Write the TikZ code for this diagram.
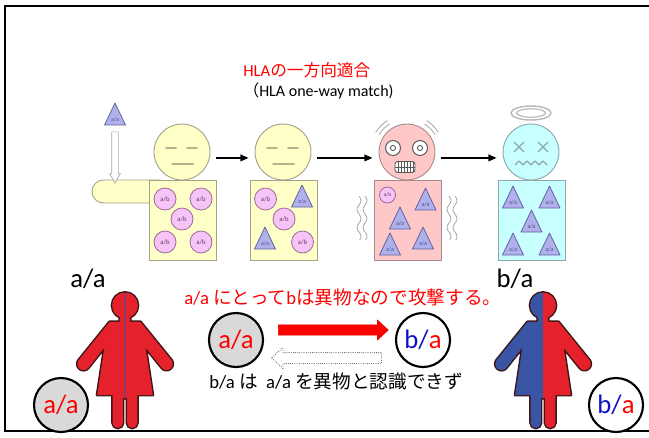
\documentclass[tikz,border=0pt]{standalone}
\usepackage{fontspec}
\setmainfont{Carlito}
\newfontfamily\jp{Noto Sans CJK JP}
\usetikzlibrary{shapes.arrows,shapes.geometric,calc,arrows.meta}

\definecolor{yfill}{HTML}{FFFFC8}
\definecolor{yline}{HTML}{A3A38A}
\definecolor{faceline}{HTML}{B4B48C}
\definecolor{pfill}{HTML}{FFC8C8}
\definecolor{pline}{HTML}{A88C8C}
\definecolor{cfill}{HTML}{C8FFFF}
\definecolor{cline}{HTML}{8CA8A8}
\definecolor{abfill}{HTML}{F7C4F7}
\definecolor{abline}{HTML}{9A6A9A}
\definecolor{abtext}{HTML}{6A3A6A}
\definecolor{trifill}{HTML}{B0B0EC}
\definecolor{triline}{HTML}{6464A0}
\definecolor{tritext}{HTML}{505088}
\definecolor{manred}{HTML}{E5212B}
\definecolor{manblue}{HTML}{3A54A4}
\definecolor{manline}{HTML}{3C1616}
\definecolor{seam}{HTML}{8A3C6E}
\definecolor{circgray}{HTML}{D9D9D9}
\definecolor{inkblue}{HTML}{1010CC}
\definecolor{inkred}{HTML}{FF0000}

% silhouette of a person in local pixel units, head top at y=0
\newcommand{\dresspath}{(5,24) -- (5,29) -- (15,29) -- (45,66)
  arc[start angle=-39, end angle=141, radius=6]
  -- (20,54) -- (27,100) -- (12,100) -- (12,127)
  arc[start angle=0, end angle=180, radius=5]
  -- (2,103) -- (-2,103) -- (-2,127)
  arc[start angle=0, end angle=180, radius=5]
  -- (-12,100) -- (-27,100) -- (-20,54) -- (-35.6,73.6)
  arc[start angle=39, end angle=219, radius=6]
  -- (-15,29) -- (-5,29) -- (-5,24) -- cycle}
\newcommand{\headpath}{(0,13) circle[radius=12.5]}

\tikzset{
  antigen/.pic={
    \draw[fill=trifill, draw=triline, line width=0.6pt, line join=round]
      (0,-12) -- (10.5,10) -- (-10.5,10) -- cycle;
    \node[font=\fontsize{4.5}{4.5}\selectfont, text=tritext, inner sep=0pt] (-lbl) at (0,5) {a/a};
  }
}

\begin{document}
\begin{tikzpicture}[x=0.75pt, y=-0.75pt,
  every node/.style={inner sep=0pt},
  head/.style={circle, minimum size=42pt, line width=0.7pt},
  bodybox/.style={rectangle, minimum width=50.25pt, minimum height=60pt, line width=0.7pt},
  yel/.style={fill=yfill, draw=yline},
  pnk/.style={fill=pfill, draw=pline},
  cyn/.style={fill=cfill, draw=cline},
  ab/.style={circle, minimum size=16.5pt, fill=abfill, draw=abline, line width=0.6pt,
    text=abtext, font=\fontsize{5}{5}\selectfont},
  flow/.style={-{Triangle[length=6pt,width=5pt]}, line width=0.9pt,
    shorten <=4.5pt, shorten >=5pt},
  calm/.style={draw=faceline, line width=1.5pt, line cap=round},
  shake/.style={draw=gray!70, line width=0.6pt},
  drop/.style={single arrow, draw=gray!70, fill=white, line width=0.5pt,
    minimum height=38.25pt, minimum width=0pt, single arrow head extend=1.5pt,
    single arrow tip angle=60, inner xsep=0pt, inner ysep=2.25pt,
    text height=0pt, text depth=0pt, rotate=-90},
  bigarrow/.style={single arrow, minimum height=82.5pt, minimum width=0pt,
    single arrow head extend=3.75pt, single arrow tip angle=85,
    inner xsep=0pt, inner ysep=3.75pt, text height=0pt, text depth=0pt},
  allele/.style={circle, minimum size=40.5pt, draw=black, line width=1.6pt,
    font=\fontsize{20}{20}\selectfont},
  geno/.style={font=\fontsize{20}{20}\selectfont},
  outline/.style={draw=manline, line width=2.2pt, line join=round},
]
\useasboundingbox (0,0) rectangle (649,437);

% frame
\draw[line width=1.5pt] (649,6) -- (5,6) -- (5,431) -- (649,431);

% headings
\node[anchor=west, text=inkred, font=\fontsize{12.5}{14}\selectfont] (title) at (243,70)
  {HLA{\jp の一方向適合}};
\node[anchor=west, font=\fontsize{12}{14}\selectfont] (subtitle) at (243,91)
  {{\jp （}HLA one-way match)};

% ---- transfusion sequence ----
% arm receiving the cells
\draw[yel, line width=0.7pt, rounded corners=8.6pt] (92,180) rectangle (170,203);

% bodies
\node[bodybox, yel] (b1) at (182.5,220) {};
\node[bodybox, yel] (b2) at (284,220) {};
\node[bodybox, pnk] (b3) at (407.5,220) {};
\node[bodybox, cyn] (b4) at (531.5,220) {};

% heads
\node[head, yel] (h1) at (182,152) {};
\node[head, yel] (h2) at (283,152) {};
\node[head, pnk] (h3) at (407,152) {};
\node[head, cyn] (h4) at (531,152) {};

% arrows between stages
\draw[flow] (h1.-12) -- (h2.192);
\draw[flow] (h2.-12) -- (h3.192);
\draw[flow] (h3.-12) -- (h4.192);

% donor cell dropping onto the arm
\pic (t0) at (115,115) {antigen};
\node[drop] (dropin) at (115,154.5) {};

% calm faces
\foreach \c in {182,283} {
  \draw[calm] (\c-16,148) -- (\c-6,148);
  \draw[calm] (\c+5,148) -- (\c+15,148);
  \draw[calm] (\c-10,164) -- (\c+11,164);
}

% frightened face
\foreach \ex in {393,420} {
  \draw[fill=white, draw=gray!75!black, line width=0.8pt] (\ex,148) circle[radius=7.5];
  \draw[draw=gray!75!black, line width=0.7pt] (\ex,148) circle[radius=2.6];
}
\draw[fill=white, draw=gray!70!black, line width=0.7pt, rounded corners=2pt]
  (395,161.5) rectangle (415,172.5);
\foreach \tx in {398,401,404,407,410,413}
  \draw[gray!70!black, line width=0.4pt] (\tx,162) -- (\tx,172);
\draw[gray!70!black, line width=0.4pt] (395,167) -- (415,167);
% trembling marks
\foreach \r in {33,37} {
  \draw[shake] (h3.center) ++(-148:\r) arc[start angle=-148, end angle=-122, radius=\r];
  \draw[shake] (h3.center) ++(-58:\r) arc[start angle=-58, end angle=-32, radius=\r];
}
\foreach \sx in {359,365,449,455}
  \draw[shake] plot[smooth, domain=0:44, samples=23] ({\sx+2*sin(\x*20)}, {196+\x});

% dead face and halo
\draw[draw=cline, line width=1pt] (514,142) -- (524,152) (514,152) -- (524,142);
\draw[draw=cline, line width=1pt] (538,142) -- (548,152) (538,152) -- (548,142);
\draw[draw=cline, line width=1pt, line join=round]
  (515,165) -- (519,161) -- (523,165) -- (527,161) -- (531,165)
  -- (535,161) -- (539,165) -- (543,161) -- (547,165);
\draw[gray!55, line width=1.1pt] (531,113) ellipse[x radius=20, y radius=7];
\draw[gray!55, line width=0.9pt] (531,113) ellipse[x radius=14.5, y radius=4.2];

% body contents
\node[ab] (c11) at (165,199) {a/b};
\node[ab] (c12) at (201,199) {a/b};
\node[ab] (c13) at (182,219) {a/b};
\node[ab] (c14) at (165,242) {a/b};
\node[ab] (c15) at (201,242) {a/b};

\node[ab] (c21) at (265.5,199) {a/b};
\node[ab] (c22) at (284,219) {a/b};
\node[ab] (c23) at (302.5,242) {a/b};
\pic (t21) at (302,197) {antigen};
\pic (t22) at (265,239) {antigen};

\node[ab, minimum size=12pt, font=\fontsize{4}{4}\selectfont] (c31) at (387.5,195) {a/b};
\pic (t31) at (425.5,200) {antigen};
\pic (t32) at (400,219) {antigen};
\pic (t33) at (390,245) {antigen};
\pic (t34) at (423,239) {antigen};

\pic (t41) at (513,198) {antigen};
\pic (t42) at (549.5,198) {antigen};
\pic (t43) at (531.5,222) {antigen};
\pic (t44) at (513,245) {antigen};
\pic (t45) at (549.5,245) {antigen};

% ---- genotype comparison ----
\node[geno] (laa) at (88,279) {a/a};
\node[geno] (lba) at (515,279) {b/a};

% recipient a/a
\begin{scope}[shift={(125,292)}, scale=1.03]
  \draw[outline] \dresspath;
  \draw[outline] \headpath;
  \fill[manred] \dresspath;
  \fill[manred] \headpath;
  \draw[seam, line width=0.8pt] (0,1) -- (0,102);
\end{scope}

% donor b/a
\begin{scope}[shift={(543,292)}, scale=1.03]
  \draw[outline] \dresspath;
  \draw[outline] \headpath;
  \begin{scope}
    \clip (-60,-5) rectangle (0,140);
    \fill[manblue] \dresspath;
    \fill[manblue] \headpath;
  \end{scope}
  \begin{scope}
    \clip (0,-5) rectangle (60,140);
    \fill[manred] \dresspath;
    \fill[manred] \headpath;
  \end{scope}
\end{scope}

\node[allele, fill=circgray, text=inkred] (aa2) at (61,405) {a/a};
\node[allele, fill=white] (ba2) at (616,405) {\textcolor{inkblue}{b/}\textcolor{inkred}{a}};

\node[anchor=west, text=inkred, font=\fontsize{14}{16}\selectfont] (attack) at (184,297)
  {a/a {\jp にとって}b{\jp は異物なので攻撃する。}};

\node[allele, fill=circgray, text=inkred] (caa) at (236,340) {a/a};
\node[allele, fill=white] (cba) at (423,340) {\textcolor{inkblue}{b/}\textcolor{inkred}{a}};

\node[bigarrow, fill=inkred, draw=inkred!85!black, line width=0.3pt] (fwd)
  at ($(caa.east)!0.5!(cba.west)+(1,-10)$) {};
\node[bigarrow, fill=white, draw=gray!80!black, densely dotted, line width=0.6pt, rotate=180] (back)
  at ($(caa.east)!0.5!(cba.west)+(0,18)$) {};

\node[anchor=west, font=\fontsize{14}{16}\selectfont] (miss) at (209,381)
  {b/a {\jp は}\ \ a/a {\jp を異物と認識できず}};
\end{tikzpicture}
\end{document}
